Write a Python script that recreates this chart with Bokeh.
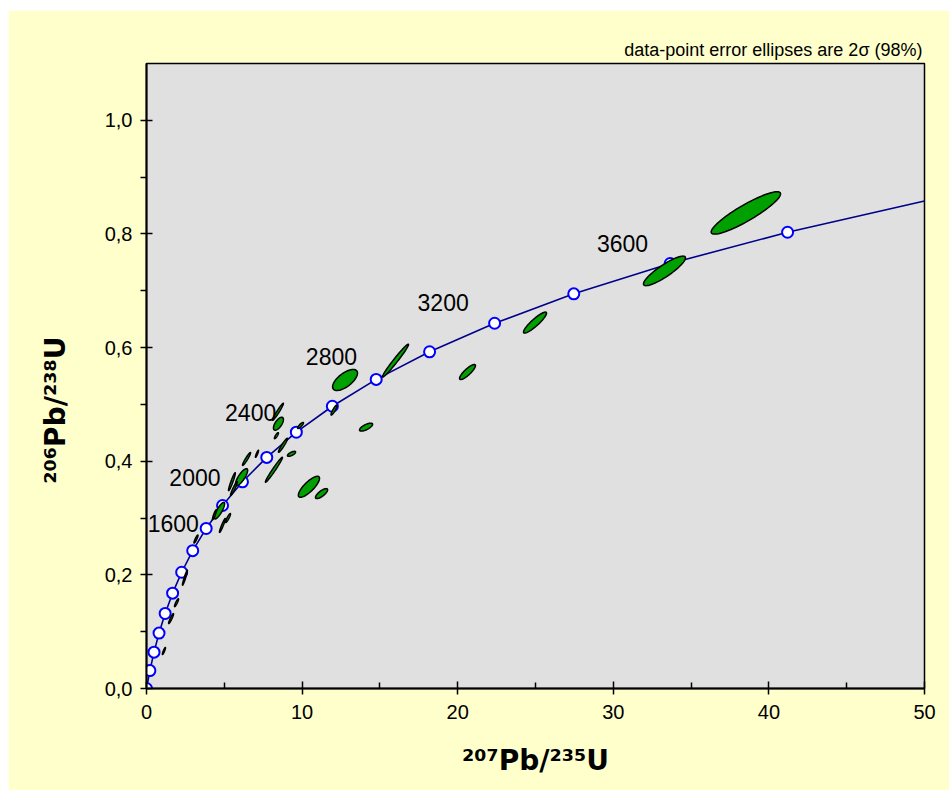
import numpy as np
from bokeh.plotting import figure
from bokeh.models import Range1d, FixedTicker
from bokeh.core.properties import value
from bokeh.embed import file_html
from bokeh.resources import INLINE

# ---------------- data ----------------
# Concordia reference points (every 200 Ma, 0 .. 3800 Ma)
conc_x = [0, 0.218, 0.483, 0.806, 1.199, 1.677, 2.260, 2.970, 3.835, 4.887,
          6.168, 7.729, 9.630, 11.944, 14.762, 18.193, 22.372, 27.459, 33.655, 41.200]
conc_y = [0, 0.0315, 0.0640, 0.0975, 0.1321, 0.1678, 0.2046, 0.2426, 0.2817, 0.3221,
          0.3638, 0.4067, 0.4511, 0.4968, 0.5440, 0.5926, 0.6428, 0.6946, 0.7480, 0.8030]
# curve end at the right edge of the plot
curve_end_x = 50.0
curve_end_y = 0.858

# Age labels (left edge of each label, its vertical centre)
age_text = ["1600", "2000", "2400", "2800", "3200", "3600"]
age_x = [0.08, 1.47, 5.05, 10.24, 17.42, 28.95]
age_y = [0.290, 0.371, 0.486, 0.584, 0.680, 0.784]

# Data-point error ellipses: centre, 2-sigma half-extents, correlation
ell_x = [1.12, 1.58, 1.93, 2.47, 3.18, 4.88, 4.69, 5.24, 4.37, 6.11, 5.49, 5.62, 6.43,
         7.10, 8.19, 8.77, 9.32, 10.44, 11.25, 8.45, 8.48, 8.35, 9.90, 12.05, 12.76,
         16.00, 14.11, 20.63, 24.97, 33.29, 38.52]
ell_y = [0.066, 0.123, 0.151, 0.195, 0.263, 0.287, 0.313, 0.300, 0.306, 0.372, 0.364,
         0.352, 0.404, 0.413, 0.385, 0.428, 0.413, 0.355, 0.343, 0.487, 0.466, 0.445,
         0.463, 0.490, 0.543, 0.577, 0.460, 0.557, 0.644, 0.735, 0.837]
ell_sx = [0.10, 0.16, 0.13, 0.16, 0.13, 0.19, 0.33, 0.16, 0.13, 0.39, 0.22, 0.22, 0.26,
          0.10, 0.55, 0.29, 0.26, 0.68, 0.39, 0.35, 0.32, 0.13, 0.19, 0.19, 0.80,
          0.84, 0.42, 0.51, 0.74, 1.35, 2.23]
ell_sy = [0.0062, 0.0088, 0.0070, 0.0132, 0.0070, 0.0123, 0.0146, 0.0079, 0.0088,
          0.0150, 0.0158, 0.0123, 0.0114, 0.0062, 0.0220, 0.0123, 0.0044, 0.0185,
          0.0088, 0.0150, 0.0114, 0.0053, 0.0053, 0.0088, 0.0185, 0.0290, 0.0070,
          0.0132, 0.0185, 0.0260, 0.0373]
ell_rho = [0.90, 0.93, 0.90, 0.95, 0.90, 0.95, 0.83, 0.90, 0.90, 0.80, 0.95, 0.95, 0.95,
           0.90, 0.98, 0.95, 0.70, 0.80, 0.76, 0.97, 0.65, 0.85, 0.85, 0.90, 0.65,
           0.98, 0.71, 0.85, 0.90, 0.88, 0.90]

x_ticks = [0, 10, 20, 30, 40, 50]
x_minor = [5, 15, 25, 35, 45]
y_ticks = [0.0, 0.2, 0.4, 0.6, 0.8, 1.0]
y_tick_labels = ["0,0", "0,2", "0,4", "0,6", "0,8", "1,0"]
y_minor = [0.1, 0.3, 0.5, 0.7, 0.9]

x_title = "²⁰⁷Pb/²³⁵U"
y_title = "²⁰⁶Pb/²³⁸U"
note_text = "data-point error ellipses are 2σ (98%)"

SANS = "Liberation Sans"
WIDE = "DejaVu Sans"
NBSP = "\u00a0"

# ---------------- figure ----------------
p = figure(width=941, height=780, output_backend="svg", toolbar_location=None,
           x_range=Range1d(0, 50), y_range=Range1d(0, 1.1),
           min_border_left=138, min_border_right=25, min_border_top=53,
           min_border_bottom=102)
p.margin = (10, 0, 7, 8)
p.border_fill_color = "#FFFFCC"
p.background_fill_color = "#E0E0E0"
p.outline_line_color = "black"
p.outline_line_width = 1.5
p.xgrid.visible = False
p.ygrid.visible = False

# note above the plot (title, right aligned)
p.title.text = note_text
p.title.align = "right"
p.title.offset = 2
p.title.standoff = 8
p.title.text_font = SANS
p.title.text_font_size = "18px"
p.title.text_font_style = "normal"
p.title.text_color = "black"

# axes
xa = p.xaxis[0]
xa.ticker = FixedTicker(ticks=x_ticks, minor_ticks=x_minor)
xa.axis_line_width = 2
xa.major_tick_line_width = 1.5
xa.minor_tick_line_width = 1.5
xa.major_tick_in = 7
xa.major_tick_out = 6
xa.minor_tick_in = 6
xa.minor_tick_out = 0
xa.major_label_text_font = SANS
xa.major_label_text_font_size = "20px"
xa.major_label_text_color = "black"
xa.major_label_standoff = 10
xa.axis_label = x_title
xa.axis_label_text_font = WIDE
xa.axis_label_text_font_style = "bold"
xa.axis_label_text_font_size = "28px"
xa.axis_label_text_color = "black"
xa.axis_label_standoff = 22

ya = p.yaxis[0]
ya.ticker = FixedTicker(ticks=y_ticks, minor_ticks=y_minor)
ya.major_label_overrides = {t: l for t, l in zip(y_ticks, y_tick_labels)}
ya.axis_line_width = 2
ya.major_tick_line_width = 1.5
ya.minor_tick_line_width = 1.5
ya.major_tick_in = 6
ya.major_tick_out = 6
ya.minor_tick_in = 0
ya.minor_tick_out = 6
ya.major_label_text_font = SANS
ya.major_label_text_font_size = "20px"
ya.major_label_text_color = "black"
ya.major_label_standoff = 8
# trailing no-break spaces move the centred title lower along the axis
ya.axis_label = y_title + NBSP * 7
ya.axis_label_text_font = WIDE
ya.axis_label_text_font_style = "bold"
ya.axis_label_text_font_size = "28px"
ya.axis_label_text_color = "black"
ya.axis_label_standoff = 30

# concordia curve
p.line(conc_x + [curve_end_x], conc_y + [curve_end_y], line_color="#00008B", line_width=1.6)
p.scatter(conc_x, conc_y, size=11, marker="circle", fill_color="white",
          line_color="#0000FF", line_width=2)

# error ellipses built in data space from centre, half-extents and correlation
theta = np.linspace(0, 2 * np.pi, 72)
xs, ys = [], []
for cx, cy, sx, sy, r in zip(ell_x, ell_y, ell_sx, ell_sy, ell_rho):
    xs.append(list(cx + sx * np.cos(theta)))
    ys.append(list(cy + sy * (r * np.cos(theta) + np.sqrt(1 - r * r) * np.sin(theta))))
p.patches(xs, ys, fill_color="#00A000", line_color="black", line_width=1.5)

# age labels
p.text(x=age_x, y=age_y, text=age_text, text_font=value(SANS), text_font_size="23px",
       text_align="left", text_baseline="middle", text_color="black")

open("out.html", "w").write(file_html(p, INLINE))
